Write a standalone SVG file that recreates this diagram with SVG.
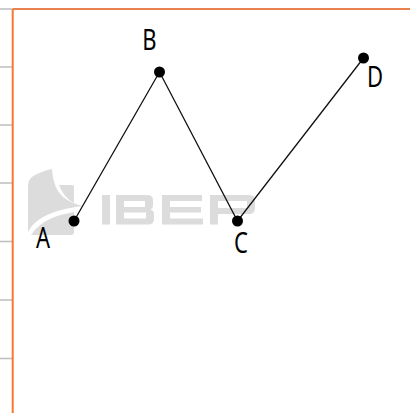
<svg xmlns="http://www.w3.org/2000/svg" width="410" height="413" viewBox="0 0 410 413">
<style>
.tick{stroke:#bdbdbd;stroke-width:1.3;fill:none}
.wm{fill:#dcdcdc;stroke:none}
.edge{stroke:#111;stroke-width:1.300;fill:none}
.pt{fill:#000}
.lbl{font-family:"Noto Sans","Open Sans",sans-serif;font-size:29px;fill:#000;text-anchor:middle}
</style>
<rect width="410" height="413" fill="#fff"/>
<g id="axes">
<path class="tick" d="M0 9H12M0 67H12M0 125H12M0 183H12M0 241.500H12M0 300H12M0 358.500H12"/>
<path d="M12.500 9H410" stroke="#e8814f" stroke-width="2" fill="none"/>
<path d="M12.700 9V413" stroke="#f47a30" stroke-width="2" fill="none"/>
</g>
<g id="watermark">
<path class="wm" d="M28 232V187Q28 178 35 175Q45 170 52 169Q53 188 63 197Q72 204 84 206Q55 209 40 219Q32 224 28 232Z"/>
<path class="wm" d="M59 185H72Q74 185 74 187V203Q64 198 59 185Z"/>
<path class="wm" d="M31 235Q38 224 52 218Q62 214 74 212V232Q74 235 71 235Z"/>
<rect class="wm" x="102" y="195" width="8" height="29.500"/>
<path class="wm" fill-rule="evenodd" d="M116 195H147Q153 195 153 200V205Q153 209 150 209.500Q154 210 154 214V219Q154 224.500 148 224.500H116ZM124 201V207H145V201ZM124 212.500V218.500H146V212.500Z"/>
<path class="wm" d="M162 195H202V201H170V207H201V212.500H170V218.500H203V224.500H162Z"/>
<path class="wm" fill-rule="evenodd" d="M210 195H249Q255 195 255 201V208Q255 214 249 214H218V224.500H210ZM218 201V208H247V201Z"/>
</g>
<g id="connectors">
<path class="edge" d="M74 221L159.500 72L237.500 221L363.500 58"/>
</g>
<g id="A"><circle class="pt" cx="74" cy="221" r="5.500"/><text class="lbl" transform="translate(43 248) scale(.76 1)">A</text></g>
<g id="B"><circle class="pt" cx="159.500" cy="72" r="5.500"/><text class="lbl" transform="translate(149.500 49.500) scale(.76 1)">B</text></g>
<g id="C"><circle class="pt" cx="237.500" cy="221" r="5.500"/><text class="lbl" transform="translate(241 253) scale(.76 1)">C</text></g>
<g id="D"><circle class="pt" cx="363.500" cy="58" r="5.500"/><text class="lbl" transform="translate(375 86.500) scale(.76 1)">D</text></g>
</svg>
